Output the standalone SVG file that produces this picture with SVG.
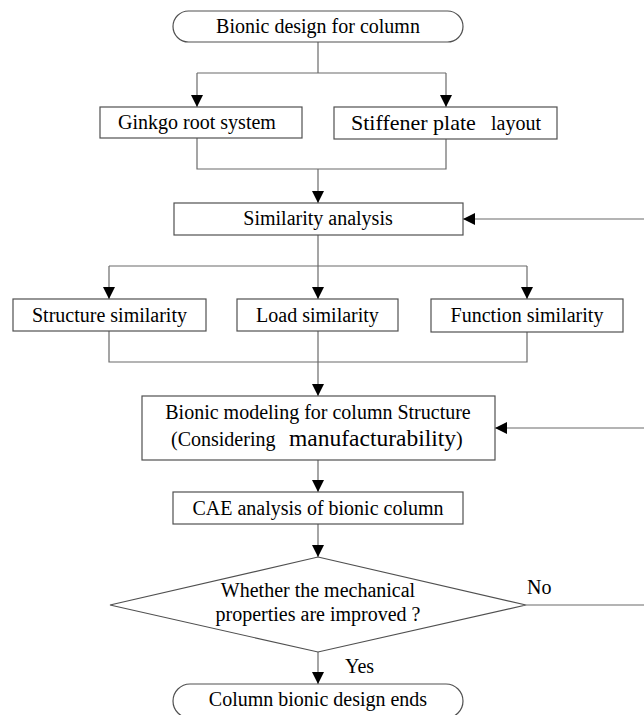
<svg xmlns="http://www.w3.org/2000/svg" width="644" height="715" viewBox="0 0 644 715">
  <style>
    .box { fill: #ffffff; stroke: #505050; stroke-width: 1.2; }
    .conn { fill: none; stroke: #6a6a6a; stroke-width: 1.2; }
    .t { font-family: "Liberation Serif", "Times New Roman", serif; font-size: 20px; fill: #000; }
    .c { text-anchor: middle; }
  </style>
  <defs>
    <marker id="arr" markerUnits="userSpaceOnUse" markerWidth="12" markerHeight="12" refX="12" refY="6" orient="auto">
      <path d="M0,0 L12,6 L0,12 z" fill="#000"/>
    </marker>
  </defs>
  <rect width="644" height="715" fill="#ffffff"/>

  <g id="connectors">
    <path class="conn" d="M318,42 V73 M197,73 H446"/>
    <path class="conn" d="M197,73 V107" marker-end="url(#arr)"/>
    <path class="conn" d="M446,73 V107" marker-end="url(#arr)"/>
    <path class="conn" d="M197,138 V169 H446 V139"/>
    <path class="conn" d="M318,169 V203" marker-end="url(#arr)"/>
    <path class="conn" d="M318,235 V266 M109,266 H527"/>
    <path class="conn" d="M109,266 V299" marker-end="url(#arr)"/>
    <path class="conn" d="M318,266 V299" marker-end="url(#arr)"/>
    <path class="conn" d="M527,266 V299" marker-end="url(#arr)"/>
    <path class="conn" d="M109,331 V362 H527 V332 M318,331 V362"/>
    <path class="conn" d="M318,362 V396" marker-end="url(#arr)"/>
    <path class="conn" d="M318,460 V492" marker-end="url(#arr)"/>
    <path class="conn" d="M318,524 V557" marker-end="url(#arr)"/>
    <path class="conn" d="M318,652 V684" marker-end="url(#arr)"/>
    <path class="conn" d="M526,605 H645 V219 H463" marker-end="url(#arr)"/>
    <path class="conn" d="M645,428 H495" marker-end="url(#arr)"/>
    <text class="t" x="527" y="594">No</text>
    <text class="t" x="345" y="673">Yes</text>
  </g>

  <g id="start">
    <rect class="box" x="173" y="11" width="290" height="31" rx="15.5" ry="15.5"/>
    <text class="t c" x="318" y="33">Bionic design for column</text>
  </g>

  <g id="ginkgo">
    <rect class="box" x="100" y="107" width="202" height="31"/>
    <text class="t c" x="197" y="129">Ginkgo root system</text>
  </g>

  <g id="stiffener">
    <rect class="box" x="334" y="107" width="223" height="32"/>
    <text class="t" y="130"><tspan x="351" font-size="22">Stiffener plate</tspan><tspan x="491">layout</tspan></text>
  </g>

  <g id="similarity">
    <rect class="box" x="174" y="203" width="289" height="32"/>
    <text class="t c" x="318" y="225">Similarity analysis</text>
  </g>

  <g id="structure">
    <rect class="box" x="13" y="299" width="193" height="32"/>
    <text class="t c" x="109.5" y="321.5">Structure similarity</text>
  </g>

  <g id="load">
    <rect class="box" x="237" y="299" width="161" height="32"/>
    <text class="t c" x="317.5" y="321.5">Load similarity</text>
  </g>

  <g id="function">
    <rect class="box" x="431" y="299" width="192" height="33"/>
    <text class="t c" x="527" y="321.5">Function similarity</text>
  </g>

  <g id="modeling">
    <rect class="box" x="142" y="396" width="353" height="64"/>
    <text class="t c" x="318" y="419">Bionic modeling for column Structure</text>
    <text class="t" y="446"><tspan x="171">(Considering</tspan><tspan x="289" font-size="23.5">manufacturability</tspan><tspan>)</tspan></text>
  </g>

  <g id="cae">
    <rect class="box" x="173" y="492" width="290" height="32"/>
    <text class="t c" x="318" y="514.5">CAE analysis of bionic column</text>
  </g>

  <g id="decision">
    <polygon class="box" points="318,557 526,605 318,652 110,605"/>
    <text class="t c" x="318" y="597">Whether the mechanical</text>
    <text class="t c" x="318" y="621">properties are improved ?</text>
  </g>

  <g id="end">
    <rect class="box" x="173" y="684" width="290" height="34" rx="17" ry="17"/>
    <text class="t c" x="318" y="706">Column bionic design ends</text>
  </g>
</svg>
